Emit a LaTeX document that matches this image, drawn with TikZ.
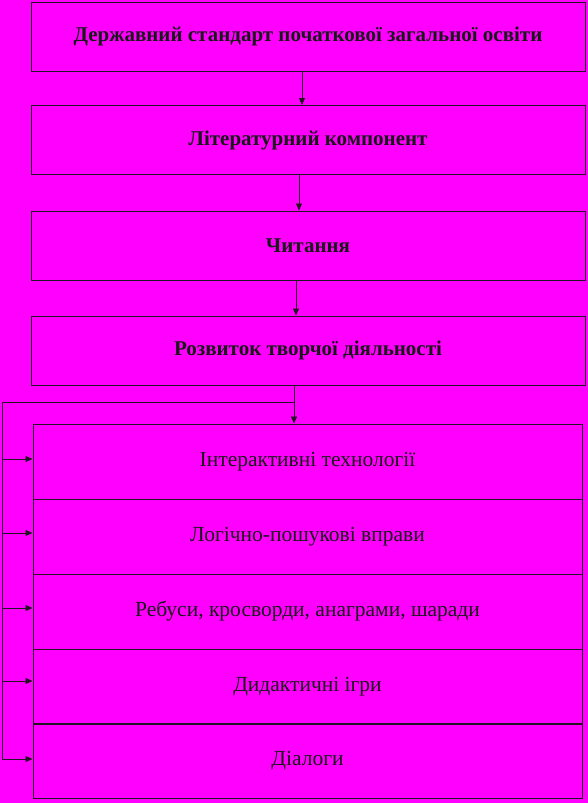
\documentclass[tikz,border=0pt]{standalone}
\usepackage{fontspec}
\setmainfont{Liberation Serif}
\usetikzlibrary{arrows.meta}
\definecolor{bgmag}{RGB}{255,0,255}
\definecolor{edge}{RGB}{35,20,35}
\tikzset{
  mainbox/.style={draw=edge, line width=1pt, minimum width=554pt, minimum height=69pt,
    inner sep=0pt, font=\fontsize{21}{24}\selectfont\bfseries, text=black!90},
  itembox/.style={draw=edge, line width=1pt, minimum width=549pt, minimum height=75pt,
    inner sep=0pt, font=\fontsize{21.5}{25}\selectfont, text=black!90},
  arr/.style={draw=edge, line width=0.9pt, -{Triangle[length=7pt,width=6pt]}},
  link/.style={draw=edge, line width=0.9pt}
}
\begin{document}
\begin{tikzpicture}[x=1pt, y=-1pt]
  \fill[bgmag] (0,0) rectangle (588,803);
  \useasboundingbox (0,0) rectangle (588,803);
  % верхні блоки
  \node[mainbox] (std) at (308,36.5) {Державний стандарт початкової загальної освіти};
  \node[mainbox] (lit) at (308,140) {Літературний компонент};
  \node[mainbox] (read) at (308,245.5) {Читання};
  \node[mainbox] (dev) at (308,350.5) {Розвиток творчої діяльності};
  % список методів
  \node[itembox] (tech) at (307.5,461.5) {Інтерактивні технології};
  \node[itembox] (logic) at (307.5,536.5) {Логічно-пошукові вправи};
  \node[itembox] (puzz) at (307.5,611.5) {Ребуси, кросворди, анаграми, шаради};
  \node[itembox] (game) at (307.5,686.5) {Дидактичні ігри};
  \node[itembox] (dial) at (307.5,761) {Діалоги};
  % стрілки
  \draw[arr] ([xshift=-6pt]std.south) -- ([xshift=-6pt]lit.north);
  \draw[arr] ([xshift=-9pt]lit.south) -- ([xshift=-9pt]read.north);
  \draw[arr] ([xshift=-12pt]read.south) -- ([xshift=-12pt]dev.north);
  \coordinate (split) at (294,402);
  \coordinate (rail) at (2,402);
  \draw[link] ([xshift=-14pt]dev.south) -- (split);
  \draw[arr] (split) -- (split |- tech.north);
  \draw[link] (split) -- (rail) -- (rail |- 0,759);
  \foreach \item/\y in {tech/459, logic/533, puzz/608, game/681, dial/759}
    \draw[arr] (2,\y) -- (\item.west |- 0,\y);
\end{tikzpicture}
\end{document}
